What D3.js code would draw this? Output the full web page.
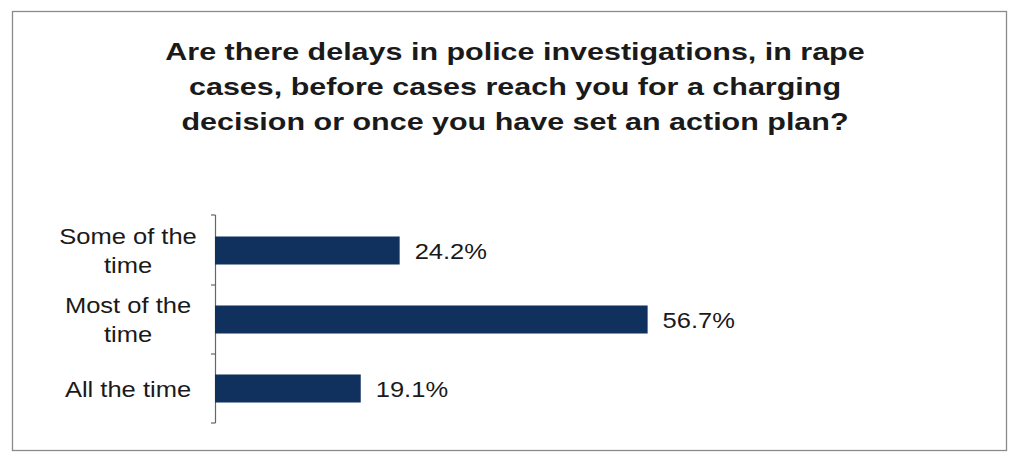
<!DOCTYPE html>
<html>
<head>
<meta charset="utf-8">
<script src="https://cdn.jsdelivr.net/npm/d3@7"></script>
<style>
  html, body { margin: 0; padding: 0; background: #fff; }
  svg { display: block; }
  text { font-family: "Liberation Sans", Arial, sans-serif; fill: #1a1a1a; }
</style>
</head>
<body>
<svg id="chart" width="1009" height="453"></svg>
<script>
// Survey responses: frequency of delays in police investigations (rape cases)
const categories = ["Some of the time", "Most of the time", "All the time"];
const categoryLines = [["Some of the", "time"], ["Most of the", "time"], ["All the time"]];
const values = [24.2, 56.7, 19.1];
const valueLabels = ["24.2%", "56.7%", "19.1%"];
const titleLines = [
  "Are there delays in police investigations, in rape",
  "cases, before cases reach you for a charging",
  "decision or once you have set an action plan?"
];

// Type in this chart is set slightly wide
const titleStretch = 1.27;
const labelStretch = 1.16;

const svg = d3.select("#chart");

// Outer frame
svg.append("rect")
  .attr("x", 12.5).attr("y", 11.5)
  .attr("width", 994).attr("height", 439)
  .attr("fill", "none")
  .attr("stroke", "#8a8a8a")
  .attr("stroke-width", 1.3);

// Title
svg.append("g")
  .selectAll("text")
  .data(titleLines)
  .join("text")
  .attr("transform", (d, i) => `translate(515, ${60 + i * 35}) scale(${titleStretch}, 1)`)
  .attr("text-anchor", "middle")
  .attr("font-size", 24)
  .attr("font-weight", "bold")
  .text(d => d);

// Scales
const y = d3.scaleBand()
  .domain(categories)
  .range([216, 423])
  .paddingInner(0.594)
  .paddingOuter(0.297);

const x = d3.scaleLinear()
  .domain([0, 100])
  .range([215, 978]);

// Category axis (vertical line with small ticks at band boundaries)
const axisG = svg.append("g");
axisG.append("line")
  .attr("x1", 215.5).attr("x2", 215.5)
  .attr("y1", y.range()[0] - 1).attr("y2", y.range()[1])
  .attr("stroke", "#666").attr("stroke-width", 1.2);
const boundaries = [y.range()[0] - 1].concat(categories.map(c => y(c) + y.bandwidth() + y.step() * y.paddingInner() / 2));
boundaries[boundaries.length - 1] = y.range()[1];
axisG.selectAll("line.tick")
  .data(boundaries)
  .join("line")
  .attr("class", "tick")
  .attr("x1", 211).attr("x2", 215.5)
  .attr("y1", d => d).attr("y2", d => d)
  .attr("stroke", "#666").attr("stroke-width", 1.2);

// Category labels (centered, wrapped)
const catG = svg.append("g")
  .selectAll("text")
  .data(categories)
  .join("text")
  .attr("text-anchor", "middle")
  .attr("font-size", 22)
  .attr("transform", (d, i) => {
    const n = categoryLines[i].length;
    const cy = y(d) + y.bandwidth() / 2;
    return `translate(128, ${cy + 8 - (n - 1) * 29 / 2}) scale(${labelStretch}, 1)`;
  });
catG.selectAll("tspan")
  .data((d, i) => categoryLines[i])
  .join("tspan")
  .attr("x", 0)
  .attr("dy", (d, i) => i === 0 ? 0 : 29)
  .text(d => d);

// Bars
svg.append("g")
  .selectAll("rect")
  .data(values)
  .join("rect")
  .attr("x", x(0))
  .attr("y", (d, i) => y(categories[i]))
  .attr("width", d => x(d) - x(0))
  .attr("height", y.bandwidth())
  .attr("fill", "#10305e");

// Value labels
svg.append("g")
  .selectAll("text")
  .data(values)
  .join("text")
  .attr("transform", (d, i) => `translate(${x(d) + 15}, ${y(categories[i]) + y.bandwidth() / 2 + 8.5}) scale(${labelStretch}, 1)`)
  .attr("font-size", 22)
  .text((d, i) => valueLabels[i]);
</script>
</body>
</html>
